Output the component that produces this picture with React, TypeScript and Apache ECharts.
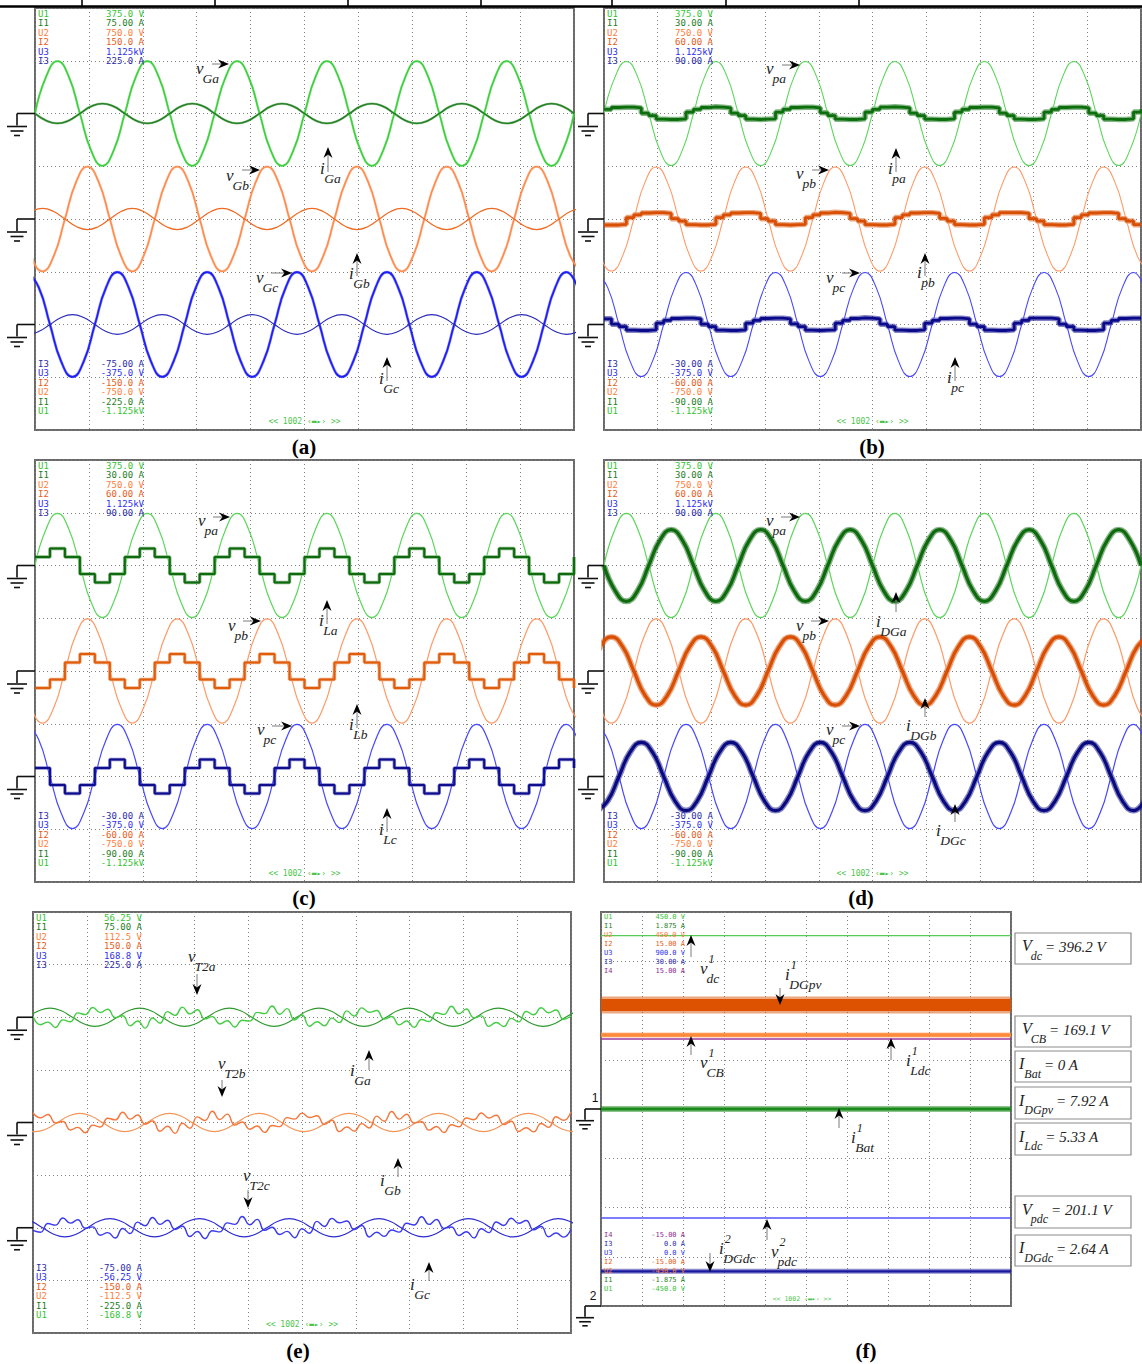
import React, { useEffect, useRef } from "react";
import * as echarts from "echarts";

const W = 1142;
const H = 1364;

// time base: 10 ms/div over 10 divisions, 60 Hz mains (16.67 ms cycle)
const EIGHTH = 25 / 12; // 45 degrees
const TWELFTH = 25 / 18; // 30 degrees

// ---------- scope readouts (top rows: U1..I3, bottom rows listed upward) ----------
const TOP_NAMES = ["U1", "I1", "U2", "I2", "U3", "I3"];
const BOTTOM_NAMES = ["I3", "U3", "I2", "U2", "I1", "U1"];
const TOP_NAMES_F = ["U1", "I1", "U2", "I2", "U3", "I3", "I4"];
const BOTTOM_NAMES_F = ["I4", "I3", "U3", "I2", "U2", "I1", "U1"];

const TOP_A = ["375.0 V", "75.00 A", "750.0 V", "150.0 A", "1.125kV", "225.0 A"];
const BOTTOM_A = ["-75.00 A", "-375.0 V", "-150.0 A", "-750.0 V", "-225.0 A", "-1.125kV"];
const TOP_BCD = ["375.0 V", "30.00 A", "750.0 V", "60.00 A", "1.125kV", "90.00 A"];
const BOTTOM_BCD = ["-30.00 A", "-375.0 V", "-60.00 A", "-750.0 V", "-90.00 A", "-1.125kV"];
const TOP_E = ["56.25 V", "75.00 A", "112.5 V", "150.0 A", "168.8 V", "225.0 A"];
const BOTTOM_E = ["-75.00 A", "-56.25 V", "-150.0 A", "-112.5 V", "-225.0 A", "-168.8 V"];
const TOP_F = ["450.0 V", "1.875 A", "450.0 V", "15.00 A", "900.0 V", "30.00 A", "15.00 A"];
const BOTTOM_F = ["-15.00 A", "0.0 A", "0.0 V", "-15.00 A", "-450.0 V", "-1.875 A", "-450.0 V"];

const CH_COLOR: Record<string, string> = {
  U1: "#33c433",
  I1: "#1f7d1f",
  U2: "#ff7d3a",
  I2: "#e65c1a",
  U3: "#2e2ef2",
  I3: "#2c2ca8",
  I4: "#8e2c8e",
};

// ---------- (a) grid voltages and currents, 45-degree samples ----------
const VG_A = [
  0, 132, 186, 132, 0, -132, -186, -132, 0, 132, 186, 132, 0, -132, -186, -132,
  0, 132, 186, 132, 0, -132, -186, -132, 0, 132, 186, 132, 0, -132, -186, -132,
  0, 132, 186, 132, 0, -132, -186, -132, 0, 132, 186, 132, 0, -132, -186, -132, 0,
];
const IG_A = [
  0, -5, -7, -5, 0, 5, 7, 5, 0, -5, -7, -5, 0, 5, 7, 5, 0, -5, -7, -5, 0, 5, 7, 5,
  0, -5, -7, -5, 0, 5, 7, 5, 0, -5, -7, -5, 0, 5, 7, 5, 0, -5, -7, -5, 0, 5, 7, 5, 0,
];
const VG_B = [
  0, -132, -186, -132, 0, 132, 186, 132, 0, -132, -186, -132, 0, 132, 186, 132,
  0, -132, -186, -132, 0, 132, 186, 132, 0, -132, -186, -132, 0, 132, 186, 132,
  0, -132, -186, -132, 0, 132, 186, 132, 0, -132, -186, -132, 0, 132, 186, 132,
  0, -132, -186,
];
const IG_B = [
  0, 5.3, 7.5, 5.3, 0, -5.3, -7.5, -5.3, 0, 5.3, 7.5, 5.3, 0, -5.3, -7.5, -5.3,
  0, 5.3, 7.5, 5.3, 0, -5.3, -7.5, -5.3, 0, 5.3, 7.5, 5.3, 0, -5.3, -7.5, -5.3,
  0, 5.3, 7.5, 5.3, 0, -5.3, -7.5, -5.3, 0, 5.3, 7.5, 5.3, 0, -5.3, -7.5, -5.3,
  0, 5.3, 7.5,
];
const VG_C = [
  186, 132, 0, -132, -186, -132, 0, 132, 186, 132, 0, -132, -186, -132, 0, 132,
  186, 132, 0, -132, -186, -132, 0, 132, 186, 132, 0, -132, -186, -132, 0, 132,
  186, 132, 0, -132, -186, -132, 0, 132, 186, 132, 0, -132, -186, -132, 0, 132,
  186, 132,
];
const IG_C = [
  -7, -5, 0, 5, 7, 5, 0, -5, -7, -5, 0, 5, 7, 5, 0, -5, -7, -5, 0, 5, 7, 5, 0, -5,
  -7, -5, 0, 5, 7, 5, 0, -5, -7, -5, 0, 5, 7, 5, 0, -5, -7, -5, 0, 5, 7, 5, 0, -5,
  -7, -5,
];

// ---------- PCC voltages used in (b), (c), (d) ----------
const VP_A = [
  0, 131, 185, 131, 0, -131, -185, -131, 0, 131, 185, 131, 0, -131, -185, -131,
  0, 131, 185, 131, 0, -131, -185, -131, 0, 131, 185, 131, 0, -131, -185, -131,
  0, 131, 185, 131, 0, -131, -185, -131, 0, 131, 185, 131, 0, -131, -185, -131, 0,
];
const VP_B = [
  0, -131, -185, -131, 0, 131, 185, 131, 0, -131, -185, -131, 0, 131, 185, 131,
  0, -131, -185, -131, 0, 131, 185, 131, 0, -131, -185, -131, 0, 131, 185, 131,
  0, -131, -185, -131, 0, 131, 185, 131, 0, -131, -185, -131, 0, 131, 185, 131,
  0, -131, -185,
];
const VP_C = [
  185, 131, 0, -131, -185, -131, 0, 131, 185, 131, 0, -131, -185, -131, 0, 131,
  185, 131, 0, -131, -185, -131, 0, 131, 185, 131, 0, -131, -185, -131, 0, 131,
  185, 131, 0, -131, -185, -131, 0, 131, 185, 131, 0, -131, -185, -131, 0, 131,
  185, 131,
];

// ---------- (b) PCC currents, 30-degree steps ----------
const IP_A = [
  1.2, 1.7, 1.8, 1.8, 1.6, 0.1, -0.6, -1.6, -1.7, -1.7, -1.5, 0.4,
  1.2, 1.7, 1.9, 1.8, 1.6, 0.1, -0.6, -1.6, -1.7, -1.6, -1.5, 0.4,
  1.2, 1.7, 1.8, 1.8, 1.6, 0.2, -0.6, -1.6, -1.7, -1.7, -1.5, 0.4,
  1.2, 1.8, 1.9, 1.8, 1.6, 0.1, -0.6, -1.6, -1.7, -1.7, -1.5, 0.4,
  1.2, 1.7, 1.8, 1.8, 1.6, 0.1, -0.6, -1.6, -1.7, -1.7, -1.5, 0.4,
  1.2, 1.7, 1.8, 1.8, 1.6, 0.1, -0.6, -1.6, -1.7, -1.7, -1.5, 0.4, 1.2,
];
const IP_B = [
  -1.7, -1.7, -1.5, 0.4, 1.2, 1.7, 1.8, 1.8, 1.6, 0.1, -0.6, -1.6,
  -1.7, -1.7, -1.5, 0.4, 1.2, 1.7, 1.8, 1.8, 1.6, 0.1, -0.6, -1.6,
  -1.7, -1.6, -1.5, 0.4, 1.2, 1.7, 1.9, 1.8, 1.6, 0.1, -0.6, -1.6,
  -1.7, -1.7, -1.5, 0.4, 1.2, 1.7, 1.8, 1.8, 1.6, 0.2, -0.6, -1.6,
  -1.7, -1.7, -1.5, 0.4, 1.2, 1.8, 1.8, 1.8, 1.6, 0.1, -0.6, -1.6,
  -1.7, -1.7, -1.5, 0.4, 1.2, 1.7, 1.8, 1.8, 1.6, 0.1, -0.6, -1.6, -1.7,
];
const IP_C = [
  1.6, 0.1, -0.6, -1.6, -1.7, -1.7, -1.5, 0.4, 1.2, 1.7, 1.8, 1.8,
  1.6, 0.1, -0.6, -1.6, -1.7, -1.7, -1.5, 0.4, 1.2, 1.7, 1.8, 1.8,
  1.6, 0.2, -0.6, -1.6, -1.7, -1.6, -1.5, 0.4, 1.2, 1.7, 1.9, 1.8,
  1.6, 0.1, -0.6, -1.6, -1.7, -1.7, -1.5, 0.4, 1.2, 1.7, 1.8, 1.8,
  1.6, 0.1, -0.6, -1.6, -1.7, -1.7, -1.5, 0.4, 1.2, 1.8, 1.8, 1.8,
  1.6, 0.1, -0.6, -1.6, -1.7, -1.7, -1.5, 0.4, 1.2, 1.7, 1.8, 1.8, 1.6,
];

// ---------- (c) load currents, 30-degree steps ----------
const IL_A = [
  2.4, 2.4, 4.8, 4.8, 2.4, 2.4, -2.4, -2.4, -4.8, -4.8, -2.4, -2.4,
  2.4, 2.4, 4.8, 4.8, 2.4, 2.4, -2.4, -2.4, -4.8, -4.8, -2.4, -2.4,
  2.4, 2.4, 4.8, 4.8, 2.4, 2.4, -2.4, -2.4, -4.8, -4.8, -2.4, -2.4,
  2.4, 2.4, 4.8, 4.8, 2.4, 2.4, -2.4, -2.4, -4.8, -4.8, -2.4, -2.4,
  2.4, 2.4, 4.8, 4.8, 2.4, 2.4, -2.4, -2.4, -4.8, -4.8, -2.4, -2.4,
  2.4, 2.4, 4.8, 4.8, 2.4, 2.4, -2.4, -2.4, -4.8, -4.8, -2.4, -2.4, 2.4,
];
const IL_B = [
  -4.8, -4.8, -2.4, -2.4, 2.4, 2.4, 4.8, 4.8, 2.4, 2.4, -2.4, -2.4,
  -4.8, -4.8, -2.4, -2.4, 2.4, 2.4, 4.8, 4.8, 2.4, 2.4, -2.4, -2.4,
  -4.8, -4.8, -2.4, -2.4, 2.4, 2.4, 4.8, 4.8, 2.4, 2.4, -2.4, -2.4,
  -4.8, -4.8, -2.4, -2.4, 2.4, 2.4, 4.8, 4.8, 2.4, 2.4, -2.4, -2.4,
  -4.8, -4.8, -2.4, -2.4, 2.4, 2.4, 4.8, 4.8, 2.4, 2.4, -2.4, -2.4,
  -4.8, -4.8, -2.4, -2.4, 2.4, 2.4, 4.8, 4.8, 2.4, 2.4, -2.4, -2.4, -4.8,
];
const IL_C = [
  2.4, 2.4, -2.4, -2.4, -4.8, -4.8, -2.4, -2.4, 2.4, 2.4, 4.8, 4.8,
  2.4, 2.4, -2.4, -2.4, -4.8, -4.8, -2.4, -2.4, 2.4, 2.4, 4.8, 4.8,
  2.4, 2.4, -2.4, -2.4, -4.8, -4.8, -2.4, -2.4, 2.4, 2.4, 4.8, 4.8,
  2.4, 2.4, -2.4, -2.4, -4.8, -4.8, -2.4, -2.4, 2.4, 2.4, 4.8, 4.8,
  2.4, 2.4, -2.4, -2.4, -4.8, -4.8, -2.4, -2.4, 2.4, 2.4, 4.8, 4.8,
  2.4, 2.4, -2.4, -2.4, -4.8, -4.8, -2.4, -2.4, 2.4, 2.4, 4.8, 4.8, 2.4,
];

// ---------- (d) DG currents, 45-degree samples ----------
const ID_A = [
  0, -7.2, -10.2, -7.2, 0, 7.2, 10.2, 7.2, 0, -7.2, -10.2, -7.2, 0, 7.2, 10.2, 7.2,
  0, -7.2, -10.2, -7.2, 0, 7.2, 10.2, 7.2, 0, -7.2, -10.2, -7.2, 0, 7.2, 10.2, 7.2,
  0, -7.2, -10.2, -7.2, 0, 7.2, 10.2, 7.2, 0, -7.2, -10.2, -7.2, 0, 7.2, 10.2, 7.2, 0,
];
const ID_B = [
  0, 6.9, 9.7, 6.9, 0, -6.9, -9.7, -6.9, 0, 6.9, 9.7, 6.9, 0, -6.9, -9.7, -6.9,
  0, 6.9, 9.7, 6.9, 0, -6.9, -9.7, -6.9, 0, 6.9, 9.7, 6.9, 0, -6.9, -9.7, -6.9,
  0, 6.9, 9.7, 6.9, 0, -6.9, -9.7, -6.9, 0, 6.9, 9.7, 6.9, 0, -6.9, -9.7, -6.9,
  0, 6.9, 9.7,
];
const ID_C = [
  -9.7, -6.9, 0, 6.9, 9.7, 6.9, 0, -6.9, -9.7, -6.9, 0, 6.9, 9.7, 6.9, 0, -6.9,
  -9.7, -6.9, 0, 6.9, 9.7, 6.9, 0, -6.9, -9.7, -6.9, 0, 6.9, 9.7, 6.9, 0, -6.9,
  -9.7, -6.9, 0, 6.9, 9.7, 6.9, 0, -6.9, -9.7, -6.9, 0, 6.9, 9.7, 6.9, 0, -6.9,
  -9.7, -6.9,
];

// ---------- (e) transformer voltages (30-degree samples) and grid currents ----------
const VT_A = [
  0.5, -4.0, -2.6, -5.5, -1.4, -2.4, 2.3, 1.4, 5.2, 2.5, 4.3, -0.2,
  0.8, -4.6, -2.0, -5.8, -0.4, -3.2, 3.0, 1.0, 5.4, 1.8, 4.0, -0.9,
  0.3, -3.6, -1.9, -5.2, -1.6, -2.1, 2.6, 1.9, 6.0, 1.6, 4.6, -1.5,
  1.2, -4.8, -2.4, -4.6, -0.5, -2.9, 3.4, 0.6, 5.0, 2.7, 3.6, -1.0,
  0.4, -4.1, -2.0, -5.4, -1.2, -2.3, 2.4, 1.5, 5.9, 1.8, 4.4, -0.3,
  0.7, -4.9, -2.8, -5.0, -0.6, -2.5, 3.1, 1.3, 5.1, 2.4, 3.9, -1.1, 0.5,
];
const VT_B = [
  5.2, 2.5, 4.3, -0.2, 0.5, -4.0, -2.6, -5.5, -1.4, -2.4, 2.3, 1.4,
  5.5, 1.8, 4.0, -0.9, 0.8, -4.7, -2.0, -5.8, -0.4, -3.1, 3.0, 1.1,
  6.0, 1.6, 4.5, -1.4, 0.3, -3.6, -1.9, -5.3, -1.6, -2.2, 2.6, 1.8,
  5.0, 2.7, 3.6, -1.0, 1.2, -4.9, -2.4, -4.6, -0.6, -2.9, 3.4, 0.7,
  5.9, 1.8, 4.4, -0.3, 0.4, -4.1, -2.1, -5.4, -1.2, -2.3, 2.4, 1.5,
  5.1, 2.4, 3.9, -1.1, 0.7, -4.8, -2.8, -5.0, -0.5, -2.6, 3.1, 1.2, 5.8,
];
const VT_C = [
  -1.4, -2.4, 2.3, 1.4, 5.2, 2.5, 4.3, -0.2, 0.5, -4.0, -2.6, -5.5,
  -0.4, -3.1, 3.0, 1.1, 5.5, 1.8, 4.0, -0.9, 0.8, -4.7, -2.0, -5.8,
  -1.6, -2.2, 2.6, 1.8, 6.0, 1.6, 4.5, -1.4, 0.3, -3.6, -1.9, -5.3,
  -0.6, -2.9, 3.4, 0.7, 5.0, 2.7, 3.6, -1.0, 1.2, -4.9, -2.4, -4.6,
  -1.2, -2.3, 2.4, 1.5, 5.9, 1.8, 4.4, -0.3, 0.4, -4.1, -2.1, -5.4,
  -0.5, -2.6, 3.1, 1.2, 5.1, 2.4, 3.9, -1.1, 0.7, -4.8, -2.8, -5.0, -0.7,
];
const IGE_A = [
  0, 4.6, 6.5, 4.6, 0, -4.6, -6.5, -4.6, 0, 4.6, 6.5, 4.6, 0, -4.6, -6.5, -4.6,
  0, 4.6, 6.5, 4.6, 0, -4.6, -6.5, -4.6, 0, 4.6, 6.5, 4.6, 0, -4.6, -6.5, -4.6,
  0, 4.6, 6.5, 4.6, 0, -4.6, -6.5, -4.6, 0, 4.6, 6.5, 4.6, 0, -4.6, -6.5, -4.6,
  0, 4.6,
];
const IGE_B = [
  0, -4.6, -6.5, -4.6, 0, 4.6, 6.5, 4.6, 0, -4.6, -6.5, -4.6, 0, 4.6, 6.5, 4.6,
  0, -4.6, -6.5, -4.6, 0, 4.6, 6.5, 4.6, 0, -4.6, -6.5, -4.6, 0, 4.6, 6.5, 4.6,
  0, -4.6, -6.5, -4.6, 0, 4.6, 6.5, 4.6, 0, -4.6, -6.5, -4.6, 0, 4.6, 6.5, 4.6,
  0, -4.6, -6.5,
];
const IGE_C = [
  6.5, 4.6, 0, -4.6, -6.5, -4.6, 0, 4.6, 6.5, 4.6, 0, -4.6, -6.5, -4.6, 0, 4.6,
  6.5, 4.6, 0, -4.6, -6.5, -4.6, 0, 4.6, 6.5, 4.6, 0, -4.6, -6.5, -4.6, 0, 4.6,
  6.5, 4.6, 0, -4.6, -6.5, -4.6, 0, 4.6, 6.5, 4.6, 0, -4.6, -6.5, -4.6, 0, 4.6,
  6.5, 4.6, 0,
];

// ---------- (f) DC-side measurements ----------
const V_DC = 396.2;
const V_CB = 169.1;
const I_BAT = 0;
const I_DGPV = 7.92;
const I_LDC = 5.33;
const V_PDC = 201.1;
const I_DGDC = 2.64;

// ---------- layout ----------
type Panel = { x: number; y: number; w: number; h: number; top: string[]; bottom: string[]; f?: boolean; label: string; lx: number; ly: number };
const PANELS: Panel[] = [
  { x: 35, y: 8, w: 539, h: 422, top: TOP_A, bottom: BOTTOM_A, label: "(a)", lx: 304, ly: 447 },
  { x: 604, y: 8, w: 537, h: 422, top: TOP_BCD, bottom: BOTTOM_BCD, label: "(b)", lx: 872, ly: 447 },
  { x: 35, y: 460, w: 539, h: 422, top: TOP_BCD, bottom: BOTTOM_BCD, label: "(c)", lx: 304, ly: 898 },
  { x: 604, y: 460, w: 537, h: 422, top: TOP_BCD, bottom: BOTTOM_BCD, label: "(d)", lx: 861, ly: 898 },
  { x: 33, y: 912, w: 538, h: 421, top: TOP_E, bottom: BOTTOM_E, label: "(e)", lx: 298, ly: 1351 },
  { x: 601, y: 912, w: 410, h: 394, top: TOP_F, bottom: BOTTOM_F, f: true, label: "(f)", lx: 866, ly: 1351 },
];

// fuzz: width of a translucent halo drawn under noisy traces
type Trace = { p: number; ch: string; t0: number; dt: number; v: number[]; color: string; w: number; mode: "smooth" | "step" | "flat"; fuzz?: number };
const TRACES: Trace[] = [
  // (a)
  { p: 0, ch: "U1", t0: 0, dt: EIGHTH, v: VG_A, color: "#3ccf3c", w: 1.4, mode: "smooth", fuzz: 2.4 },
  { p: 0, ch: "I1", t0: 0, dt: EIGHTH, v: IG_A, color: "#1f7f1f", w: 1.3, mode: "smooth", fuzz: 2.4 },
  { p: 0, ch: "U2", t0: -25 / 9, dt: EIGHTH, v: VG_B, color: "#ff8a4c", w: 1.4, mode: "smooth", fuzz: 2.4 },
  { p: 0, ch: "I2", t0: -25 / 9, dt: EIGHTH, v: IG_B, color: "#ee6a22", w: 1.2, mode: "smooth" },
  { p: 0, ch: "U3", t0: -25 / 18, dt: EIGHTH, v: VG_C, color: "#1d1df5", w: 1.6, mode: "smooth", fuzz: 2.8 },
  { p: 0, ch: "I3", t0: -25 / 18, dt: EIGHTH, v: IG_C, color: "#2a2ab8", w: 1.2, mode: "smooth" },
  // (b)
  { p: 1, ch: "U1", t0: 0, dt: EIGHTH, v: VP_A, color: "#5cd65c", w: 1.1, mode: "smooth" },
  { p: 1, ch: "I1", t0: 0, dt: TWELFTH, v: IP_A, color: "#0c6e0c", w: 2.8, mode: "step", fuzz: 5.5 },
  { p: 1, ch: "U2", t0: -25 / 9, dt: EIGHTH, v: VP_B, color: "#ff9a68", w: 1.1, mode: "smooth" },
  { p: 1, ch: "I2", t0: 0, dt: TWELFTH, v: IP_B, color: "#d84e02", w: 2.8, mode: "step", fuzz: 5.5 },
  { p: 1, ch: "U3", t0: -25 / 18, dt: EIGHTH, v: VP_C, color: "#4848ff", w: 1.1, mode: "smooth" },
  { p: 1, ch: "I3", t0: 0, dt: TWELFTH, v: IP_C, color: "#0a0a8a", w: 2.8, mode: "step", fuzz: 5.5 },
  // (c)
  { p: 2, ch: "U1", t0: 0, dt: EIGHTH, v: VP_A, color: "#5cd65c", w: 1.2, mode: "smooth" },
  { p: 2, ch: "I1", t0: 0, dt: TWELFTH, v: IL_A, color: "#0d6a0d", w: 2, mode: "step", fuzz: 3.5 },
  { p: 2, ch: "U2", t0: -25 / 9, dt: EIGHTH, v: VP_B, color: "#ff9a68", w: 1.2, mode: "smooth" },
  { p: 2, ch: "I2", t0: 0, dt: TWELFTH, v: IL_B, color: "#e05d0c", w: 2, mode: "step", fuzz: 3.5 },
  { p: 2, ch: "U3", t0: -25 / 18, dt: EIGHTH, v: VP_C, color: "#4848ff", w: 1.2, mode: "smooth" },
  { p: 2, ch: "I3", t0: 0, dt: TWELFTH, v: IL_C, color: "#0e0e8e", w: 2, mode: "step", fuzz: 3.5 },
  // (d)
  { p: 3, ch: "U1", t0: 0, dt: EIGHTH, v: VP_A, color: "#5cd65c", w: 1.2, mode: "smooth" },
  { p: 3, ch: "I1", t0: 0, dt: EIGHTH, v: ID_A, color: "#0d6a0d", w: 3.2, mode: "smooth", fuzz: 6 },
  { p: 3, ch: "U2", t0: -25 / 9, dt: EIGHTH, v: VP_B, color: "#ff9a68", w: 1.2, mode: "smooth" },
  { p: 3, ch: "I2", t0: -25 / 9, dt: EIGHTH, v: ID_B, color: "#d84e02", w: 3.2, mode: "smooth", fuzz: 6 },
  { p: 3, ch: "U3", t0: -25 / 18, dt: EIGHTH, v: VP_C, color: "#4848ff", w: 1.2, mode: "smooth" },
  { p: 3, ch: "I3", t0: -25 / 18, dt: EIGHTH, v: ID_C, color: "#0a0a80", w: 3.2, mode: "smooth", fuzz: 6 },
  // (e)
  { p: 4, ch: "I1", t0: -1.0, dt: EIGHTH, v: IGE_A, color: "#2e9a2e", w: 1.2, mode: "smooth" },
  { p: 4, ch: "U1", t0: 0, dt: TWELFTH, v: VT_A, color: "#44cc44", w: 1.4, mode: "smooth" },
  { p: 4, ch: "I2", t0: -3.78, dt: EIGHTH, v: IGE_B, color: "#f39558", w: 1.2, mode: "smooth" },
  { p: 4, ch: "U2", t0: 0, dt: TWELFTH, v: VT_B, color: "#f4763a", w: 1.4, mode: "smooth" },
  { p: 4, ch: "I3", t0: -2.39, dt: EIGHTH, v: IGE_C, color: "#2b2bd0", w: 1.2, mode: "smooth" },
  { p: 4, ch: "U3", t0: 0, dt: TWELFTH, v: VT_C, color: "#3a3aee", w: 1.4, mode: "smooth" },
  // (f) DC quantities across the whole record
  { p: 5, ch: "U1", t0: 0, dt: 100, v: [V_DC, V_DC], color: "#55cc55", w: 1.3, mode: "flat" },
  { p: 5, ch: "I2", t0: 0, dt: 100, v: [I_DGPV, I_DGPV], color: "#dd5200", w: 12, mode: "flat", fuzz: 17 },
  { p: 5, ch: "U2", t0: 0, dt: 100, v: [V_CB, V_CB], color: "#ff8a3a", w: 3.5, mode: "flat", fuzz: 5 },
  { p: 5, ch: "I4", t0: 0, dt: 100, v: [I_LDC, I_LDC], color: "#9a3aa0", w: 1.5, mode: "flat" },
  { p: 5, ch: "I1", t0: 0, dt: 100, v: [I_BAT, I_BAT], color: "#1b8a1b", w: 3, mode: "flat", fuzz: 6 },
  { p: 5, ch: "U3", t0: 0, dt: 100, v: [V_PDC, V_PDC], color: "#5050ff", w: 1.5, mode: "flat" },
  { p: 5, ch: "I3", t0: 0, dt: 100, v: [I_DGDC, I_DGDC], color: "#1a1aa0", w: 2.4, mode: "flat", fuzz: 5 },
];

type Note = { x: number; y: number; m: string; sub: string; sup?: string; ar: any[] };
const NOTES: Note[] = [
  // (a)
  { x: 196, y: 68, m: "v", sub: "Ga", ar: ["r", 212, 229, 64] },
  { x: 226, y: 175, m: "v", sub: "Gb", ar: ["r", 242, 260, 170] },
  { x: 256, y: 277, m: "v", sub: "Gc", ar: ["r", 271, 292, 273] },
  { x: 320, y: 168, m: "i", sub: "Ga", ar: ["u", 328, 172, 147] },
  { x: 349, y: 273, m: "i", sub: "Gb", ar: ["u", 357, 276, 253] },
  { x: 379, y: 378, m: "i", sub: "Gc", ar: ["u", 387, 381, 357] },
  // (b)
  { x: 766, y: 68, m: "v", sub: "pa", ar: ["r", 782, 800, 65] },
  { x: 796, y: 173, m: "v", sub: "pb", ar: ["r", 812, 829, 170] },
  { x: 826, y: 277, m: "v", sub: "pc", ar: ["r", 842, 860, 273] },
  { x: 888, y: 168, m: "i", sub: "pa", ar: ["u", 896, 172, 148] },
  { x: 917, y: 272, m: "i", sub: "pb", ar: ["u", 925, 276, 253] },
  { x: 947, y: 377, m: "i", sub: "pc", ar: ["u", 955, 381, 357] },
  // (c)
  { x: 198, y: 520, m: "v", sub: "pa", ar: ["r", 213, 230, 517] },
  { x: 228, y: 625, m: "v", sub: "pb", ar: ["r", 243, 261, 621] },
  { x: 257, y: 729, m: "v", sub: "pc", ar: ["r", 272, 292, 726] },
  { x: 319, y: 620, m: "i", sub: "La", ar: ["u", 327, 624, 600] },
  { x: 349, y: 724, m: "i", sub: "Lb", ar: ["u", 357, 728, 704] },
  { x: 379, y: 829, m: "i", sub: "Lc", ar: ["u", 387, 832, 808] },
  // (d)
  { x: 766, y: 520, m: "v", sub: "pa", ar: ["r", 781, 800, 517] },
  { x: 796, y: 625, m: "v", sub: "pb", ar: ["r", 811, 829, 621] },
  { x: 826, y: 729, m: "v", sub: "pc", ar: ["r", 842, 860, 726] },
  { x: 876, y: 621, m: "i", sub: "DGa", ar: ["u", 896, 612, 592] },
  { x: 906, y: 725, m: "i", sub: "DGb", ar: ["u", 925, 717, 698] },
  { x: 936, y: 830, m: "i", sub: "DGc", ar: ["u", 955, 822, 804] },
  // (e)
  { x: 188, y: 956, m: "v", sub: "T2a", ar: ["d", 197, 974, 995] },
  { x: 218, y: 1063, m: "v", sub: "T2b", ar: ["d", 222, 1080, 1097] },
  { x: 243, y: 1175, m: "v", sub: "T2c", ar: ["d", 248, 1190, 1208] },
  { x: 350, y: 1070, m: "i", sub: "Ga", ar: ["u", 369, 1070, 1050] },
  { x: 380, y: 1180, m: "i", sub: "Gb", ar: ["u", 398, 1177, 1158] },
  { x: 410, y: 1284, m: "i", sub: "Gc", ar: ["u", 429, 1281, 1262] },
  // (f)
  { x: 700, y: 968, m: "v", sup: "1", sub: "dc", ar: ["u", 691, 957, 935] },
  { x: 785, y: 974, m: "i", sup: "1", sub: "DGpv", ar: ["d", 780, 988, 1005] },
  { x: 700, y: 1062, m: "v", sup: "1", sub: "CB", ar: ["u", 691, 1055, 1036] },
  { x: 906, y: 1060, m: "i", sup: "1", sub: "Ldc", ar: ["u", 891, 1060, 1038] },
  { x: 851, y: 1137, m: "i", sup: "1", sub: "Bat", ar: ["u", 839, 1128, 1108] },
  { x: 719, y: 1248, m: "i", sup: "2", sub: "DGdc", ar: ["d", 710, 1253, 1272] },
  { x: 771, y: 1251, m: "v", sup: "2", sub: "pdc", ar: ["u", 767, 1240, 1219] },
];

const BOXES = [
  { y0: 933, y1: 964, m: "V", sub: "dc", rest: `= ${V_DC} V` },
  { y0: 1016, y1: 1047, m: "V", sub: "CB", rest: `= ${V_CB} V` },
  { y0: 1051, y1: 1082, m: "I", sub: "Bat", rest: `= ${I_BAT} A` },
  { y0: 1087, y1: 1119, m: "I", sub: "DGpv", rest: `= ${I_DGPV} A` },
  { y0: 1123, y1: 1155, m: "I", sub: "Ldc", rest: `= ${I_LDC} A` },
  { y0: 1196, y1: 1228, m: "V", sub: "pdc", rest: `= ${V_PDC} V` },
  { y0: 1235, y1: 1266, m: "I", sub: "DGdc", rest: `= ${I_DGDC} A` },
];

const TOP_TICKS = [82, 215, 348, 481, 612, 726, 859];

// ---------- helpers ----------
const SERIF = '"Liberation Serif", "DejaVu Serif", serif';
const MONO = '"DejaVu Sans Mono", "Liberation Mono", monospace';
let measureCtx: CanvasRenderingContext2D | null = null;
function textW(s: string, font: string): number {
  if (!measureCtx) measureCtx = document.createElement("canvas").getContext("2d");
  if (!measureCtx) return s.length * 7;
  measureCtx.font = font;
  return measureCtx.measureText(s).width;
}
function parseReading(s: string): number {
  const m = s.match(/-?[\d.]+/);
  let v = m ? parseFloat(m[0]) : 0;
  if (s.indexOf("k") >= 0) v *= 1000;
  return v;
}
function txt(x: number, y: number, text: string, font: string, fill: string, align = "left", valign = "middle") {
  return {
    type: "text",
    x,
    y,
    z: 100,
    silent: true,
    style: { text, font, fill, align, verticalAlign: valign, textAlign: align, textVerticalAlign: valign },
  };
}
function seg(x1: number, y1: number, x2: number, y2: number, stroke: string, lineWidth: number, z = 100) {
  return { type: "line", z, silent: true, shape: { x1, y1, x2, y2 }, style: { stroke, lineWidth } };
}
function poly(points: number[][], fill: string) {
  return { type: "polygon", z: 101, silent: true, shape: { points }, style: { fill } };
}
function arrow(ar: any[]) {
  const kind = ar[0];
  const out: any[] = [];
  if (kind === "r") {
    const [, x1, x2, y] = ar;
    out.push(seg(x1, y, x2 - 6, y, "#7a7a7a", 1));
    out.push(poly([[x2, y], [x2 - 11, y - 4.5], [x2 - 7.5, y], [x2 - 11, y + 4.5]], "#000"));
  } else if (kind === "u") {
    const [, x, yFrom, yTip] = ar;
    out.push(seg(x, yFrom, x, yTip + 6, "#7a7a7a", 1));
    out.push(poly([[x, yTip], [x - 4.5, yTip + 11], [x, yTip + 7.5], [x + 4.5, yTip + 11]], "#000"));
  } else {
    const [, x, yFrom, yTip] = ar;
    out.push(seg(x, yFrom, x, yTip - 6, "#7a7a7a", 1));
    out.push(poly([[x, yTip], [x - 4.5, yTip - 11], [x, yTip - 7.5], [x + 4.5, yTip - 11]], "#000"));
  }
  return out;
}
function ground(xg: number, xPanel: number, y: number, s = 1) {
  const c = "#111";
  return [
    seg(xg, y, xPanel, y, c, 1.6),
    seg(xg, y, xg, y + 12 * s, c, 1.6),
    seg(xg - 10 * s, y + 13 * s, xg + 10 * s, y + 13 * s, c, 1.6),
    seg(xg - 6.5 * s, y + 17.5 * s, xg + 6.5 * s, y + 17.5 * s, c, 1.6),
    seg(xg - 3 * s, y + 22 * s, xg + 3 * s, y + 22 * s, c, 1.6),
  ];
}

function buildOption() {
  const DOTS = { color: "#808080", width: 1, type: [1, 3] };
  const grid: any[] = [];
  const xAxis: any[] = [];
  const yAxis: any[] = [];
  const series: any[] = [];
  const chIndex: Record<string, number>[] = [];
  const els: any[] = [];

  PANELS.forEach((p, i) => {
    grid.push({ left: p.x, top: p.y, width: p.w, height: p.h, show: true, backgroundColor: "#ffffff", borderColor: "#6a6a6a", borderWidth: 2, containLabel: false });
    xAxis.push({
      gridIndex: i, type: "value", min: 0, max: 100, interval: 10,
      axisLine: { show: false }, axisTick: { show: false }, axisLabel: { show: false },
      splitLine: { show: true, lineStyle: DOTS },
    });
    yAxis.push({
      gridIndex: i, type: "value", min: 0, max: 8, interval: 1,
      axisLine: { show: false }, axisTick: { show: false }, axisLabel: { show: false },
      splitLine: { show: true, lineStyle: DOTS },
    });
    const topNames = p.f ? TOP_NAMES_F : TOP_NAMES;
    const botNames = p.f ? BOTTOM_NAMES_F : BOTTOM_NAMES;
    const map: Record<string, number> = {};
    topNames.forEach((name, k) => {
      const max = parseReading(p.top[k]);
      const min = parseReading(p.bottom[botNames.indexOf(name)]);
      map[name] = yAxis.length;
      yAxis.push({ gridIndex: i, type: "value", min, max, show: false });
    });
    chIndex.push(map);

    // readouts
    const fs = p.f ? 7 : 9;
    const font = `${fs}px ${MONO}`;
    const nameX = p.x + 3;
    const valX = p.f ? p.x + 84 : p.x + 109;
    const rowTop = p.f ? p.y + 5.3 : p.y + 5.8;
    const rowBot = p.f ? p.y + 323 : p.y + 355.6;
    const step = p.f ? 9 : 9.5;
    topNames.forEach((name, k) => {
      const y = rowTop + step * k;
      els.push(txt(nameX, y, name, font, CH_COLOR[name]));
      els.push(txt(valX, y, p.top[k], font, CH_COLOR[name], "right"));
    });
    botNames.forEach((name, k) => {
      const y = rowBot + step * k;
      els.push(txt(nameX, y, name, font, CH_COLOR[name]));
      els.push(txt(valX, y, p.bottom[k], font, CH_COLOR[name], "right"));
    });
    const tbY = p.f ? p.y + p.h - 7 : p.y + p.h - 8.5;
    els.push(txt(p.x + p.w / 2 + (p.f ? -4 : 0), tbY, "<< 1002 \u2039\u25ac\u25b8\u203a >>", `${p.f ? 6.5 : 8}px ${MONO}`, "#4cc44c", "center"));
    els.push(txt(p.lx, p.ly, p.label, `bold 21px ${SERIF}`, "#000", "center"));

    // ground references
    if (p.f) {
      const d = p.h / 8;
      els.push(...ground(585, p.x, p.y + 4 * d, 0.9));
      els.push(...ground(585, p.x, p.y + 8 * d, 0.9));
      els.push(txt(595, p.y + 4 * d - 11, "1", `12px "Liberation Sans", sans-serif`, "#111", "center"));
      els.push(txt(593, p.y + 8 * d - 10, "2", `12px "Liberation Sans", sans-serif`, "#111", "center"));
    } else {
      const d = p.h / 8;
      const xg = p.x < 300 ? 17 : 588;
      [2, 4, 6].forEach((k) => els.push(...ground(xg, p.x, p.y + k * d)));
    }
  });

  TRACES.forEach((tr) => {
    const data = tr.v.map((v, k) => [tr.t0 + k * tr.dt, v]);
    const base = {
      type: "line",
      xAxisIndex: tr.p,
      yAxisIndex: chIndex[tr.p][tr.ch],
      data,
      showSymbol: false,
      symbol: "none",
      smooth: tr.mode === "smooth" ? 0.5 : false,
      step: tr.mode === "step" ? "end" : false,
      silent: true,
      clip: true,
    };
    if (tr.fuzz) {
      series.push({ ...base, z: 2, lineStyle: { color: tr.color, width: tr.fuzz, opacity: 0.5 } });
    }
    series.push({ ...base, z: 3, lineStyle: { color: tr.color, width: tr.w } });
  });

  // annotations
  NOTES.forEach((n) => {
    const mf = `italic 17px ${SERIF}`;
    const sf = `italic 13.5px ${SERIF}`;
    const pf = `italic 12px ${SERIF}`;
    const mw = textW(n.m, mf);
    els.push(txt(n.x, n.y, n.m, mf, "#222"));
    els.push(txt(n.x + mw - (n.m === "v" ? 1 : 0.5), n.y + 10, n.sub, sf, "#222"));
    if (n.sup) els.push(txt(n.x + mw + 1, n.y - 9, n.sup, pf, "#222"));
    els.push(...arrow(n.ar));
  });

  // value boxes beside (f)
  BOXES.forEach((b) => {
    const x0 = 1015;
    const x1 = 1131;
    els.push({ type: "rect", z: 100, silent: true, shape: { x: x0, y: b.y0, width: x1 - x0, height: b.y1 - b.y0 }, style: { fill: "#fff", stroke: "#8c8c8c", lineWidth: 1.2 } });
    const yc = (b.y0 + b.y1) / 2;
    const mf = `italic 16px ${SERIF}`;
    const sf = `italic 12px ${SERIF}`;
    const rf = `italic 15px ${SERIF}`;
    const mx = x0 + (b.m === "V" ? 7 : 4);
    const sx = mx + textW(b.m, mf) - (b.m === "V" ? 1 : 0);
    const rx = sx + textW(b.sub, sf) + 3;
    els.push(txt(mx, yc - 3, b.m, mf, "#222"));
    els.push(txt(sx, yc + 7, b.sub, sf, "#222"));
    els.push(txt(rx, yc - 2, b.rest, rf, "#222"));
  });

  // rule of the table above the figure
  els.push(seg(0, 6.5, W, 6.5, "#000", 2.6, 110));
  TOP_TICKS.forEach((x) => els.push(seg(x, 0, x, 6.5, "#000", 1.6, 110)));

  return {
    animation: false,
    backgroundColor: "#ffffff",
    grid,
    xAxis,
    yAxis,
    series,
    graphic: els,
  };
}

export default function App() {
  const ref = useRef<HTMLDivElement>(null);
  useEffect(() => {
    if (!ref.current) return;
    const chart = echarts.init(ref.current, null, { renderer: "svg", width: W, height: H });
    chart.setOption(buildOption());
    return () => chart.dispose();
  }, []);
  return <div ref={ref} style={{ position: "absolute", left: 0, top: 0, width: W, height: H, background: "#fff" }} />;
}
